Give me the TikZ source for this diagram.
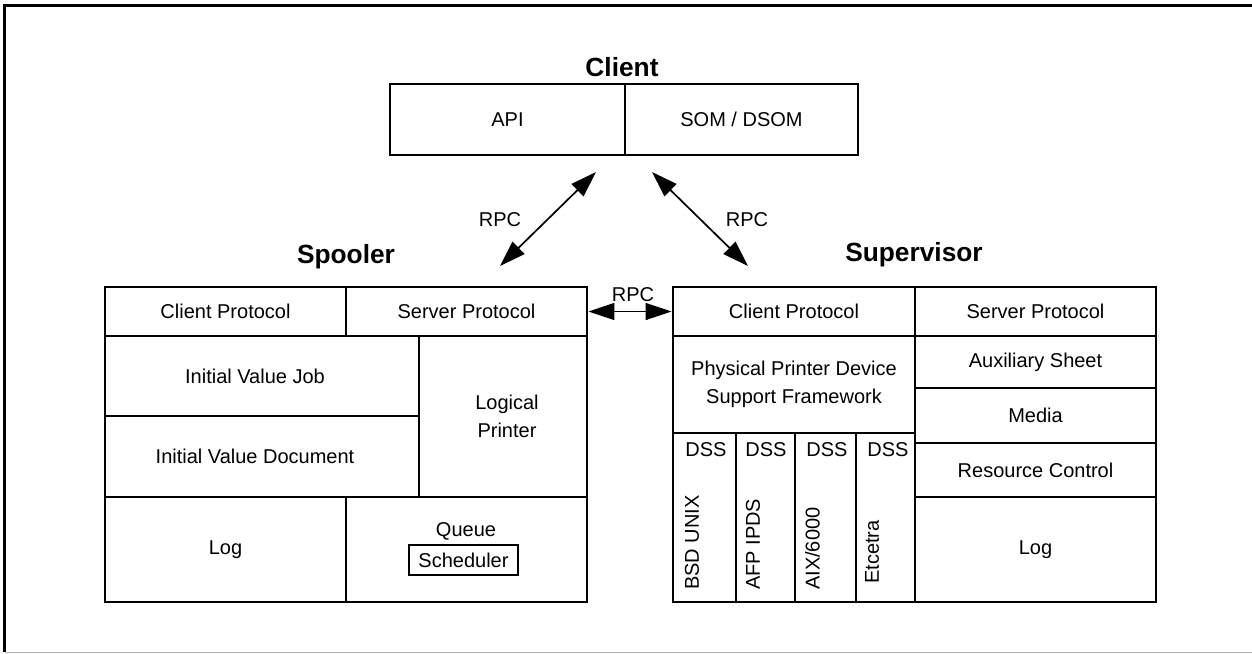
\documentclass[tikz,border=0pt]{standalone}
\usepackage{fontspec}
\setmainfont{Liberation Sans}
\usetikzlibrary{arrows.meta}
\tikzset{
  cell/.style={draw=black, line width=2.9pt, inner sep=0pt, align=center, font=\bodyfont},
  txt/.style={inner sep=0pt, align=center, font=\bodyfont},
  title/.style={inner sep=0pt, font=\titlefont},
  rot/.style={inner sep=0pt, font=\bodyfont, rotate=90, anchor=west},
  rpc/.style={line width=1.7pt, {Triangle[length=26pt,width=17pt]}-{Triangle[length=26pt,width=17pt]}},
  frameline/.style={draw=black, line width=2.8pt},
}
\newcommand{\bodyfont}{\fontsize{20}{28}\selectfont}
\newcommand{\titlefont}{\fontsize{26.3}{30}\selectfont\bfseries}
% \mycell[opts]{name}{x1}{y1}{x2}{y2}{text}
\newcommand{\mycell}[7][]{%
  \node[cell,#1, minimum width={#5pt-#3pt}, minimum height={#6pt-#4pt}] (#2) at ({(#3+#5)/2},{(#4+#6)/2}) {#7};}
\begin{document}
\begin{tikzpicture}[x=1pt,y=-1pt]
\useasboundingbox (0,0) rectangle (1252,653);
% frame
\draw[frameline] (1252,5.5) -- (4.5,5.5) -- (4.5,652);
\draw[draw=black!30, line width=1pt] (4.5,652.3) -- (1252,652.3);

% Client
\node[title] (tclient) at (622,67) {Client};
\mycell{api}{390}{84}{625}{155}{API}
\mycell{som}{625}{84}{858}{155}{SOM / DSOM}

% Spooler
\node[title] (tspooler) at (346,257) {Spooler};
\mycell{sclient}{105}{287}{346}{336}{Client Protocol}
\mycell{sserver}{346}{287}{587}{336}{Server Protocol}
\mycell{ivj}{105}{336}{419}{416}{Initial Value Job\hspace*{14pt}}
\mycell{ivd}{105}{416}{419}{497}{Initial Value Document\hspace*{14pt}}
\mycell{lp}{419}{336}{587}{497}{\hspace*{8pt}Logical\\\hspace*{8pt}Printer}
\mycell{slog}{105}{497}{346}{602}{Log}
\mycell{squeue}{346}{497}{587}{602}{}
\node[txt] (queue) at (466,531) {Queue};
\node[draw=black, line width=2.2pt, inner sep=0pt, minimum width=109pt, minimum height=30pt, font=\bodyfont] (sched) at (463.5,560) {Scheduler};

% Supervisor
\node[title] (tsuper) at (914,255) {Supervisor};
\mycell{pclient}{673}{287}{915}{336}{Client Protocol}
\mycell{ppd}{673}{336}{915}{433}{Physical Printer Device\\Support Framework}
\mycell{dss1}{673}{433}{736}{602}{}
\mycell{dss2}{736}{433}{795}{602}{}
\mycell{dss3}{795}{433}{856}{602}{}
\mycell{dss4}{856}{433}{915}{602}{}
\node[txt] (d1) at (706,450) {DSS};
\node[txt] (d2) at (766,450) {DSS};
\node[txt] (d3) at (827,450) {DSS};
\node[txt] (d4) at (888,450) {DSS};
\node[rot] (bsd) at (692,590) {BSD UNIX};
\node[rot] (afp) at (753,590) {AFP IPDS};
\node[rot] (aix) at (812.5,590) {AIX/6000};
\node[rot] (etc) at (872,584) {Etcetra};
\mycell{pserver}{915}{287}{1156}{336}{Server Protocol}
\mycell{aux}{915}{336}{1156}{388}{Auxiliary Sheet}
\mycell{media}{915}{388}{1156}{443}{Media}
\mycell{rc}{915}{443}{1156}{497}{Resource Control}
\mycell{plog}{915}{497}{1156}{602}{Log}

% RPC connectors
\coordinate (la) at (596,172);
\coordinate (lb) at (500,266);
\coordinate (ra) at (652,172);
\coordinate (rb) at (748,266);
\draw[rpc] (la) -- (lb);
\draw[rpc] (ra) -- (rb);
\draw[rpc] (sserver.east) -- (pclient.west);
\node[txt] (rpc1) at (500,220) {RPC};
\node[txt] (rpc2) at (747,220) {RPC};
\node[txt] (rpc3) at (633,295) {RPC};
\end{tikzpicture}
\end{document}
